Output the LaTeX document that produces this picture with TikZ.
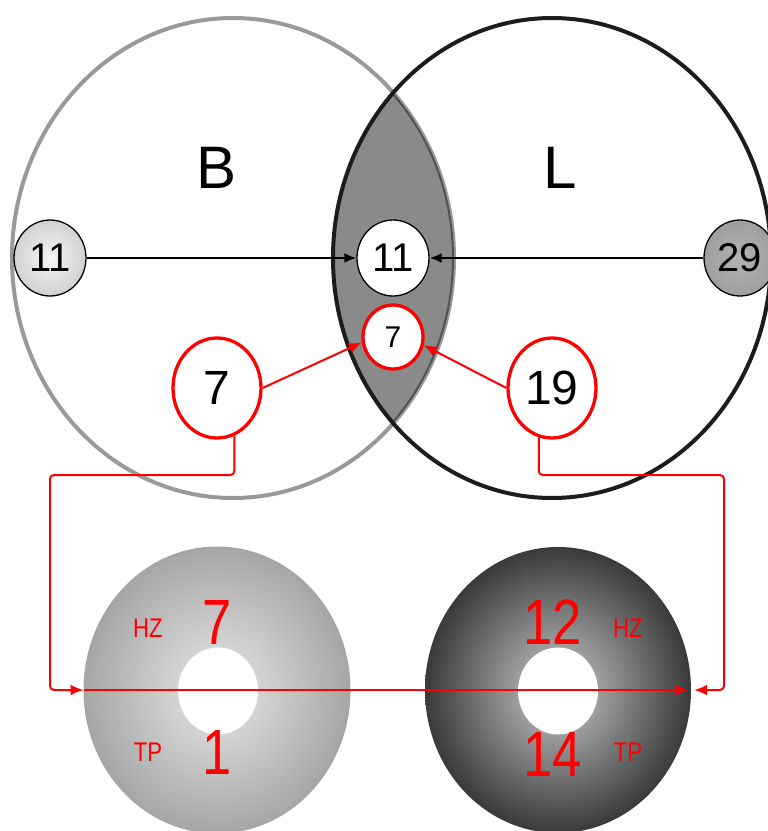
\documentclass[tikz,border=0pt]{standalone}
\usepackage{fontspec}
\setmainfont{Liberation Sans}
\newfontfamily\narrowfont[FakeStretch=0.82]{Liberation Sans}
\usetikzlibrary{
  shapes.geometric,
  arrows.meta,
  positioning,
  calc
}
\definecolor{colLens}  {HTML}{8A8A8A}
\definecolor{colRingL} {HTML}{1C1C1C}
\definecolor{colRed}   {HTML}{FF0000}
\definecolor{colLight} {HTML}{E8E8E8}
\definecolor{colMid}   {HTML}{A6A6A6}
\definecolor{colDark}  {HTML}{3A3A3A}
\tikzset{
  %% count bubble
  bubble/.style={
    ellipse, draw=black, line width=1.3pt,
    fill=white,
    minimum width=72pt, minimum height=76pt,
    inner sep=0pt,
    font=\fontsize{40}{40}\selectfont
  },
  %% red bubble
  redbubble/.style={
    bubble, draw=colRed, line width=3.3pt,
    minimum width=88pt, minimum height=100pt,
    font=\fontsize{48}{48}\selectfont
  },
  %% donut body
  donut/.style={
    ellipse, inner sep=0pt,
    minimum width=266pt, minimum height=286pt,
    shading=radial, inner color=#1, outer color=colMid
  },
  hole/.style={
    ellipse, fill=white, inner sep=0pt,
    minimum width=80pt, minimum height=87pt
  },
  %% red labels in the donuts
  bignum/.style={text=colRed, font=\narrowfont\fontsize{64}{64}\selectfont},
  tag/.style={text=colRed, font=\narrowfont\fontsize{27}{27}\selectfont},
  %% arrows
  arr/.style ={-{Latex[length=12pt,width=10pt]}, line width=2.2pt, color=black},
  rarr/.style={-{Latex[length=13pt,width=11pt]}, line width=2pt, color=colRed,
               rounded corners=4pt}
}

\begin{document}
\begin{tikzpicture}[x=1pt, y=-1pt]
\useasboundingbox (0,0) rectangle (768,831);
\clip (0,0) rectangle (768,831);

% ════════════════════════════════════════════════════════════
% VENN – B and L
% ════════════════════════════════════════════════════════════
\coordinate (cB) at (233,258);
\coordinate (cL) at (552,258);

\begin{scope}
  \clip (cB) ellipse [x radius=221pt, y radius=240pt];
  \fill[colLens] (cL) ellipse [x radius=219pt, y radius=240pt];
\end{scope}
\draw[black, draw opacity=0.4, line width=4pt]
     (cB) ellipse [x radius=221pt, y radius=240pt];
\draw[colRingL, line width=4pt]
     (cL) ellipse [x radius=219pt, y radius=240pt];

\node[font=\fontsize{60}{60}\selectfont] (labB) at (217,168) {B};
\node[font=\fontsize{60}{60}\selectfont] (labL) at (560,168) {L};

% ════════════════════════════════════════════════════════════
% BUBBLES
% ════════════════════════════════════════════════════════════
\node[bubble, shading=radial, inner color=colLight!40, outer color=colLight!90!black]
     (b11) at (50,258) {11};
\node[bubble] (c11) at (393,258) {11};
\node[bubble, shading=radial, inner color=colMid!85, outer color=colMid!95!black]
     (l29) at (740,258) {29};

\node[redbubble, minimum width=60pt, minimum height=64pt,
      font=\fontsize{30}{30}\selectfont] (m7) at (393,337) {7};
\node[redbubble] (b7)  at (217,388) {7};
\node[redbubble] (l19) at (552,388) {19};

% ════════════════════════════════════════════════════════════
% DONUTS
% ════════════════════════════════════════════════════════════
\node[donut=colLight, draw=colMid, line width=1pt] (dL) at (217,690) {};
\node[donut=colMid!60, outer color=colDark] (dR) at (558,690) {};
\node[hole] (hL) at (218,691) {};
\node[hole] (hR) at (558,691) {};

\node[bignum] (hzL) at (217,622) {7};
\node[bignum] (tpL) at (217,752) {1};
\node[bignum] (hzR) at (553,622) {12};
\node[bignum] (tpR) at (553,754) {14};
\node[tag] at (148,628) {HZ};
\node[tag] at (148,752) {TP};
\node[tag] at (628,628) {HZ};
\node[tag] at (628,752) {TP};

% ════════════════════════════════════════════════════════════
% ARROWS
% ════════════════════════════════════════════════════════════
\draw[arr] (b11) -- (c11);
\draw[arr] (l29) -- (c11);

\draw[rarr] (b7.east) -- (m7.190);
\draw[rarr] (l19.west) -- (m7.-15);

\coordinate (lftTop) at (50,475);
\coordinate (rgtTop) at (724,475);
\draw[rarr] (b7.290) |- (lftTop) |- (dL.west);
\draw[rarr] (dL.west) -- ($(dR.east)+(-3,0)$);
\draw[rarr] (l19.255) |- (rgtTop) |- ($(dR.east)+(3,0)$);

\end{tikzpicture}
\end{document}
